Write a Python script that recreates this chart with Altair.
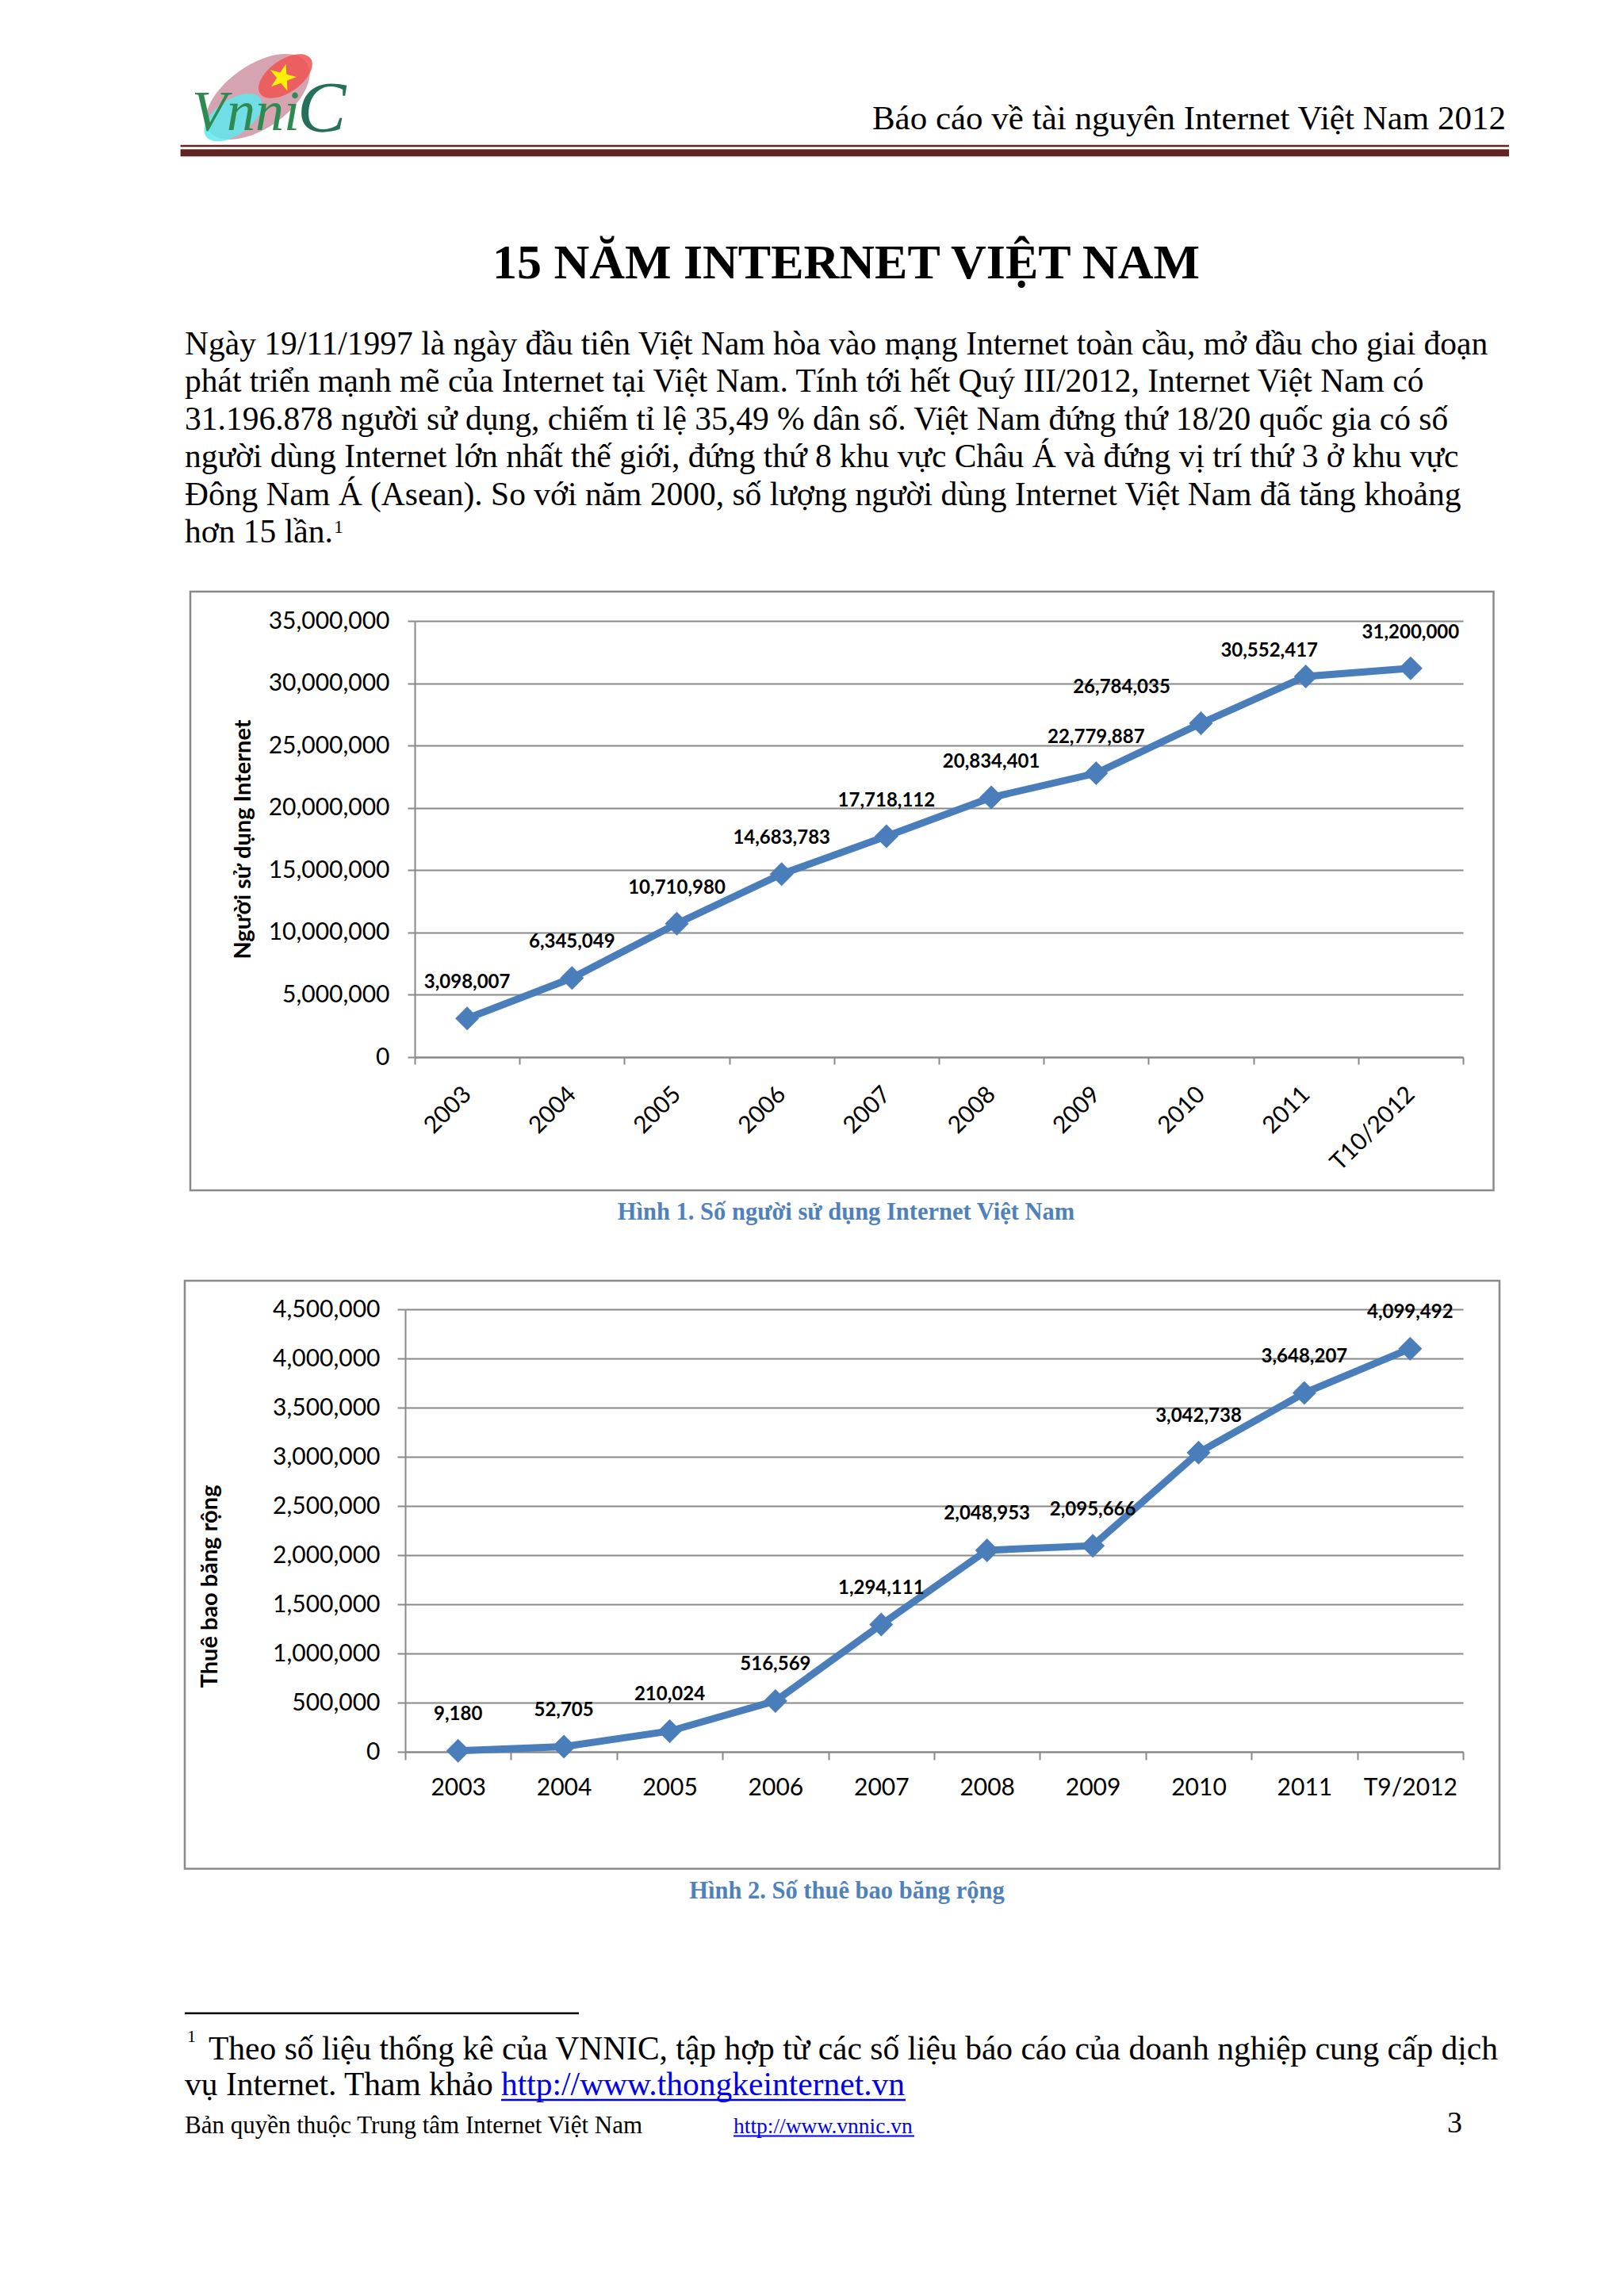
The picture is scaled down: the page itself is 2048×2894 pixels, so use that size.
import altair as alt
import pandas as pd

# ---------------- data ----------------
years1 = ["2003", "2004", "2005", "2006", "2007", "2008", "2009", "2010", "2011", "T10/2012"]
users = [3098007, 6345049, 10710980, 14683783, 17718112, 20834401, 22779887, 26784035, 30552417, 31200000]
users_ticks = [0, 5000000, 10000000, 15000000, 20000000, 25000000, 30000000, 35000000]

years2 = ["2003", "2004", "2005", "2006", "2007", "2008", "2009", "2010", "2011", "T9/2012"]
broadband = [9180, 52705, 210024, 516569, 1294111, 2048953, 2095666, 3042738, 3648207, 4099492]
bb_ticks = [0, 500000, 1000000, 1500000, 2000000, 2500000, 3000000, 3500000, 4000000, 4500000]

header_text = "Báo cáo về tài nguyên Internet Việt Nam 2012"
title_text = "15 NĂM INTERNET VIỆT NAM"
para_lines = [
    "Ngày 19/11/1997 là ngày đầu tiên Việt Nam hòa vào mạng Internet toàn cầu, mở đầu cho giai đoạn",
    "phát triển mạnh mẽ của Internet tại Việt Nam. Tính tới hết Quý III/2012, Internet Việt Nam có",
    "31.196.878 người sử dụng, chiếm tỉ  lệ  35,49 % dân số. Việt Nam đứng thứ 18/20 quốc gia có số",
    "người dùng Internet lớn nhất  thế  giới, đứng thứ 8 khu vực Châu Á và đứng vị  trí thứ  3 ở  khu vực",
    "Đông Nam Á (Asean). So với năm 2000, số  lượng người dùng Internet Việt Nam đã tăng khoảng",
    "hơn 15 lần.",
]
y_title1 = "Người sử dụng Internet"
y_title2 = "Thuê bao băng rộng"
caption1 = "Hình 1. Số người sử dụng Internet Việt Nam"
caption2 = "Hình 2. Số thuê bao băng rộng"
footnote1 = "Theo số liệu thống kê của VNNIC, tập hợp từ các số liệu báo cáo của doanh nghiệp cung cấp dịch"
footnote2 = "vụ Internet. Tham khảo "
footnote_link = "http://www.thongkeinternet.vn"
footer_left = "Bản quyền thuộc Trung tâm Internet Việt Nam"
footer_link = "http://www.vnnic.vn"
page_no = "3"

# ---------------- styles ----------------
SERIF = "Liberation Serif"
SANS = "Lato"
GRID = "#898989"
LINE_BLUE = "#4A7EBB"
CAP_BLUE = "#4F81BD"
MAROON = "#622423"
LINK = "#0000EE"
PLOT_W = 1322          # every row of the page shares this origin / width
LEFT = -515            # page left edge relative to the shared origin
RIGHT = 1397           # page right edge relative to the shared origin

ONE = pd.DataFrame({"k": [0]})


def text_layer(s, x, y, size, font=SERIF, weight="normal", align="left",
               color="black", italic=False):
    kw = dict(text=s, font=font, fontSize=size, fontWeight=weight, align=align,
              baseline="alphabetic", color=color)
    if italic:
        kw["fontStyle"] = "italic"
    return alt.Chart(ONE).mark_text(**kw).encode(x=alt.value(x), y=alt.value(y))


def hrule(x1, x2, y, width, color):
    return alt.Chart(ONE).mark_rule(color=color, strokeWidth=width).encode(
        x=alt.value(x1), x2=alt.value(x2), y=alt.value(y))


def frame(y1, y2):
    # invisible rectangle that fixes the extent of a row of the page
    return alt.Chart(ONE).mark_rect(opacity=0).encode(
        x=alt.value(LEFT), x2=alt.value(RIGHT), y=alt.value(y1), y2=alt.value(y2))


# ---------------- row A : header, title, paragraph ----------------
ELLIPSE = ("M -1 0 C -1 -0.2927 -0.5523 -0.53 0 -0.53 C 0.5523 -0.53 1 -0.2927 1 0 "
           "C 1 0.2927 0.5523 0.53 0 0.53 C -0.5523 0.53 -1 0.2927 -1 0 Z")
STAR = ("M 0 -1 L 0.2245 -0.309 L 0.9511 -0.309 L 0.3633 0.118 L 0.5878 0.809 "
        "L 0 0.382 L -0.5878 0.809 L -0.3633 0.118 L -0.9511 -0.309 L -0.2245 -0.309 Z")


def logo_blob(size, x, y, color, op):
    return alt.Chart(ONE).mark_point(
        shape=ELLIPSE, size=size, angle=325, filled=True, color=color, opacity=op,
        strokeWidth=0
    ).encode(x=alt.value(x), y=alt.value(y))


logo_star = alt.Chart(ONE).mark_point(
    shape=STAR, size=1300, angle=15, filled=True, color="#FFF200", opacity=1, strokeWidth=0
).encode(x=alt.value(-167), y=alt.value(90))
logo_letters = alt.Chart(ONE).mark_text(
    text="Vnni", font=SERIF, fontSize=72, fontStyle="italic", align="left",
    baseline="alphabetic", color="#2f8a52"
).encode(x=alt.value(-281), y=alt.value(156))
logo_c = alt.Chart(ONE).mark_text(
    text="C", font=SERIF, fontSize=92, fontStyle="italic", align="left",
    baseline="alphabetic", color="#24705a"
).encode(x=alt.value(-148), y=alt.value(158))

para_df = pd.DataFrame({"line": para_lines, "i": list(range(len(para_lines)))})
paragraph = alt.Chart(para_df).mark_text(
    font=SERIF, fontSize=41.5, align="left", baseline="alphabetic", color="black"
).encode(
    x=alt.value(-290),
    y=alt.Y("i:Q", scale=alt.Scale(domain=[0, 5], range=[438.7, 676.2]), axis=None),
    text="line:N",
)

rowA = alt.layer(
    frame(0, 735),
    logo_blob(22500, -198, 114, "#d6a3b1", 1),
    logo_blob(7000, -229, 140, "#5fe8ef", 0.85),
    logo_blob(6000, -163, 88, "#ee5454", 0.85),
    logo_star, logo_letters, logo_c,
    text_layer(header_text, 1376, 155, 43, align="right"),
    hrule(-295.4, 1380, 176, 2.6, MAROON),
    hrule(-295.4, 1380, 184.8, 9, MAROON),
    text_layer(title_text, 544, 343, 62, weight="bold", align="center"),
    paragraph,
    text_layer("1", -102, 664, 24),
).properties(width=PLOT_W, height=735)

# ---------------- row B : chart 1 ----------------
df1 = pd.DataFrame({"year": years1, "users": users})

x1 = alt.X("year:N", scale=alt.Scale(type="band", domain=years1, paddingInner=0, paddingOuter=0),
           axis=alt.Axis(title=None, labelAngle=315, labelAlign="right", labelBaseline="middle",
                         labelFont=SANS, labelFontSize=30, labelColor="black", labelPadding=33,
                         tickBand="extent", tickSize=9, tickColor=GRID, tickWidth=2,
                         domainColor=GRID, domainWidth=2, grid=False))
y1 = alt.Y("users:Q", scale=alt.Scale(domain=[0, 35000000], nice=False),
           axis=alt.Axis(values=users_ticks, format=",d", labelFont=SANS, labelFontSize=30,
                         labelColor="black", labelPadding=23, tickSize=9, tickColor=GRID,
                         tickWidth=2, domainColor=GRID, domainWidth=2, grid=True,
                         gridColor=GRID, gridWidth=2, title=y_title1, titleFont=SANS,
                         titleFontSize=29, titleFontWeight="bold", titleColor="black",
                         titleX=-217, titleY=275, titleAngle=270, titleAlign="center",
                         titleBaseline="middle"))

base1 = alt.Chart(df1).encode(x=x1, y=y1)
box1 = alt.Chart(ONE).mark_rect(fillOpacity=0, stroke="#8a8a8a", strokeWidth=2.5).encode(
    x=alt.value(-283), x2=alt.value(1360.5), y=alt.value(-37), y2=alt.value(718))
line1 = base1.mark_line(color=LINE_BLUE, strokeWidth=9)
pts1 = base1.mark_point(shape="diamond", filled=True, size=900, color=LINE_BLUE, opacity=1)
lab_kw = dict(font=SANS, fontSize=24, fontWeight="bold", color="black", baseline="alphabetic")
lab1 = base1.mark_text(dy=-38, **lab_kw).encode(
    text=alt.Text("users:Q", format=",d")
).transform_filter("datum.year != '2010' && datum.year != '2011'")
lab1_2010 = base1.mark_text(dy=-38, dx=-100, **lab_kw).encode(
    text=alt.Text("users:Q", format=",d")
).transform_filter("datum.year == '2010'")
lab1_2011 = base1.mark_text(dy=-25, dx=-46, **lab_kw).encode(
    text=alt.Text("users:Q", format=",d")
).transform_filter("datum.year == '2011'")

rowB = alt.layer(
    frame(-40, 720),
    box1, line1, pts1, lab1, lab1_2010, lab1_2011
).properties(width=PLOT_W, height=550)

# ---------------- row C : caption 1 ----------------
rowC = alt.layer(
    frame(0, 108),
    text_layer(caption1, 544, 35.3, 30.5, weight="bold", align="center", color=CAP_BLUE),
).properties(width=PLOT_W, height=108)

# ---------------- row D : chart 2 (its plot starts 12 px left of the shared origin) ----------------
df2 = pd.DataFrame({"year": years2, "subs": broadband})
x2 = alt.X("year:N", scale=alt.Scale(type="band", domain=years2, paddingInner=0, paddingOuter=0,
                                     range=[-12, PLOT_W]),
           axis=alt.Axis(title=None, labelAngle=0, labelAlign="center", labelBaseline="top",
                         labelFont=SANS, labelFontSize=30, labelColor="black", labelPadding=20,
                         tickBand="extent", tickSize=10, tickColor=GRID, tickWidth=2,
                         domainColor=GRID, domainWidth=2, grid=False))
y2 = alt.Y("subs:Q", scale=alt.Scale(domain=[0, 4500000], nice=False),
           axis=alt.Axis(values=bb_ticks, format=",d", offset=12, labelFont=SANS, labelFontSize=30,
                         labelColor="black", labelPadding=22, tickSize=10, tickColor=GRID,
                         tickWidth=2, domainColor=GRID, domainWidth=2, grid=True,
                         gridColor=GRID, gridWidth=2, title=y_title2, titleFont=SANS,
                         titleFontSize=29, titleFontWeight="bold", titleColor="black",
                         titleX=-247, titleY=349, titleAngle=270, titleAlign="center",
                         titleBaseline="middle"))
base2 = alt.Chart(df2).encode(x=x2, y=y2)
box2 = alt.Chart(ONE).mark_rect(fillOpacity=0, stroke="#8a8a8a", strokeWidth=2.5).encode(
    x=alt.value(-290), x2=alt.value(1368), y=alt.value(-36), y2=alt.value(705.5))
line2 = base2.mark_line(color=LINE_BLUE, strokeWidth=9)
pts2 = base2.mark_point(shape="diamond", filled=True, size=900, color=LINE_BLUE, opacity=1)
lab2 = base2.mark_text(dy=-38.5, **lab_kw).encode(text=alt.Text("subs:Q", format=",d"))
rowD = alt.layer(
    frame(-40, 709),
    box2, line2, pts2, lab2
).properties(width=PLOT_W, height=558)

# ---------------- row E : caption 2, footnote, footer ----------------
rowE = alt.layer(
    frame(0, 360),
    text_layer(caption2, 545, 34, 30.5, weight="bold", align="center", color=CAP_BLUE),
    hrule(-290, 207, 178.7, 2.5, "black"),
    text_layer("1", -287, 215, 22),
    text_layer(footnote1, -260, 236.7, 41.5),
    text_layer(footnote2, -290, 281.7, 41.5),
    text_layer(footnote_link, 109, 281.7, 41.5, color=LINK),
    hrule(109, 619, 288, 2.5, LINK),
    text_layer(footer_left, -290, 330, 31),
    text_layer(footer_link, 402, 330, 27.5, color=LINK),
    hrule(402, 630, 333.5, 2, LINK),
    text_layer(page_no, 1302, 329, 38),
).properties(width=PLOT_W, height=360)

chart = alt.vconcat(rowA, rowB, rowC, rowD, rowE, spacing=0).properties(
    padding=0, background="white"
).configure_view(strokeWidth=0)

chart.save("out.html", embed_options={"renderer": "svg", "actions": False})
